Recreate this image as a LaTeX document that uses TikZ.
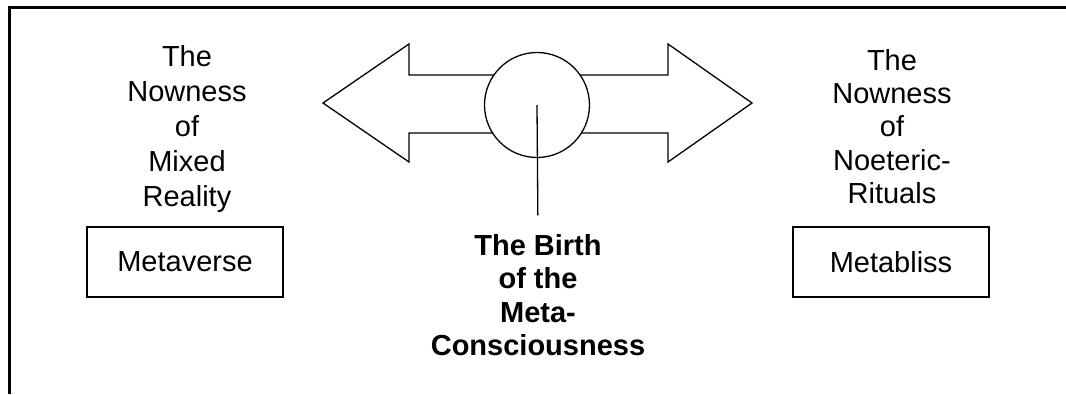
\documentclass[tikz,border=0pt]{standalone}
\usepackage{fontspec}
\setmainfont{Liberation Sans}
\usetikzlibrary{positioning}

\begin{document}
\begin{tikzpicture}[x=1pt, y=-1pt, line width=1.3pt,
    nowtext/.style={align=center, inner sep=0pt, font=\fontsize{29}{35}\selectfont},
    metabox/.style={draw, minimum width=196pt, minimum height=70pt, font=\fontsize{29}{30}\selectfont}]
    \useasboundingbox (0,0) rectangle (1066,394);

    % Khung
    \draw[line width=3.5pt] (9.5,394) -- (9.5,7.5) -- (1066,7.5);

    % Mui ten hai dau
    \draw (323,103) -- (409,44) -- (409,75) -- (668,75) -- (668,44) -- (752,103)
        -- (668,162) -- (668,133) -- (409,133) -- (409,162) -- cycle;
    \node[circle, draw, fill=white, minimum size=105pt] (core) at (537,105) {};

    % Chu o giua
    \node[nowtext, font=\bfseries\fontsize{29}{33.5}\selectfont] (birth) at (538,295)
        {The Birth\\of the\\Meta-\\Consciousness};
    \draw[shorten >=18pt] (core.center) -- (birth.north);

    % Hai ben
    \node[nowtext] (left) at (187,129) {The\\Nowness\\of\\Mixed\\Reality};
    \node[nowtext, font=\fontsize{29}{33.3}\selectfont] (right) at (892,126.5)
        {The\\Nowness\\of\\Noeteric-\\Rituals};
    \node[metabox] (verse) at (185,262) {Metaverse};
    \node[metabox] (bliss) at (891,262) {Metabliss};

\end{tikzpicture}
\end{document}
